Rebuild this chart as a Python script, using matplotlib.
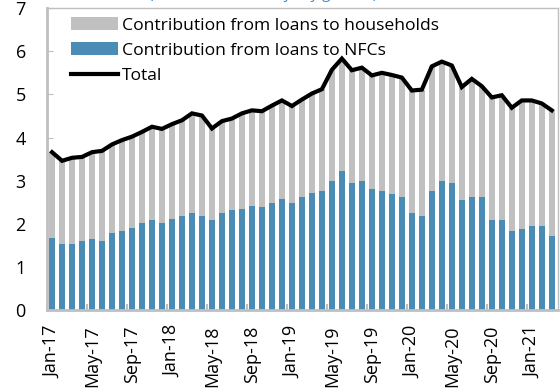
import numpy as np
import pandas as pd
import matplotlib
matplotlib.use("Agg")
import matplotlib.pyplot as plt
from matplotlib.patches import Patch
from matplotlib.lines import Line2D

plt.rcParams["font.family"] = ["Open Sans", "DejaVu Sans"]

# monthly, Jan-17 .. Mar-21
months = pd.date_range("2017-01-01", "2021-03-01", freq="MS")

nfc = [
    1.68, 1.54, 1.54, 1.61, 1.64, 1.61, 1.78, 1.84, 1.91, 2.01, 2.09, 2.01,
    2.12, 2.17, 2.24, 2.17, 2.09, 2.26, 2.32, 2.35, 2.42, 2.38, 2.47, 2.58,
    2.47, 2.61, 2.72, 2.75, 3.00, 3.23, 2.95, 3.00, 2.81, 2.77, 2.69, 2.61,
    2.24, 2.17, 2.77, 2.99, 2.95, 2.54, 2.61, 2.61, 2.09, 2.09, 1.84, 1.89,
    1.95, 1.95, 1.72,
]
total = [
    3.66, 3.46, 3.53, 3.55, 3.66, 3.69, 3.84, 3.94, 4.02, 4.13, 4.25, 4.20,
    4.31, 4.40, 4.56, 4.51, 4.21, 4.38, 4.44, 4.56, 4.63, 4.61, 4.74, 4.86,
    4.73, 4.88, 5.02, 5.12, 5.57, 5.83, 5.56, 5.62, 5.44, 5.50, 5.45, 5.39,
    5.09, 5.11, 5.65, 5.76, 5.67, 5.17, 5.36, 5.19, 4.93, 4.98, 4.69, 4.86,
    4.86, 4.79, 4.63,
]
households = [t - n for t, n in zip(total, nfc)]
labels = [m.strftime("%b-%y") for m in months]

GREY = "#c0c0c0"
BLUE = "#4a8cb6"
FRAME = "#bfbfbf"

fig = plt.figure(figsize=(5.6, 3.88), dpi=100)
ax = fig.add_axes([0.084, 0.201, 0.912, 0.778])

x = np.arange(len(months))
ax.bar(x, nfc, width=0.6, color=BLUE, zorder=2)
ax.bar(x, households, width=0.6, bottom=nfc, color=GREY, zorder=2)
ax.plot(x, total, color="black", lw=3, solid_joinstyle="miter", zorder=3)

ax.set_xlim(-0.5, len(months) - 0.4)
ax.set_ylim(0, 7)
ax.set_yticks(range(0, 8))
ax.tick_params(axis="y", direction="in", length=4, color=FRAME,
               labelsize=13, pad=19)
for lab in ax.get_yticklabels():
    lab.set_horizontalalignment("center")

ax.set_xticks(x[::4])
ax.set_xticklabels(labels[::4], rotation=90, fontsize=13)
ax.tick_params(axis="x", length=0, pad=11)
ax.set_xticks(np.arange(3.5, len(months), 4), minor=True)
ax.tick_params(axis="x", which="minor", direction="in", length=4,
               width=1.5, color=FRAME)

for side in ["left", "bottom"]:
    ax.spines[side].set_color(FRAME)
    ax.spines[side].set_linewidth(2)
for side in ["top", "right"]:
    ax.spines[side].set_color(FRAME)
    ax.spines[side].set_linewidth(1)

handles = [
    Patch(facecolor=GREY, edgecolor="none"),
    Patch(facecolor=BLUE, edgecolor="none"),
    Line2D([0], [0], color="black", lw=3),
]
ax.legend(handles, ["Contribution from loans to households",
                    "Contribution from loans to NFCs", "Total"],
          loc="upper left", bbox_to_anchor=(0.03, 1.0), frameon=False,
          fontsize=12.6, handlelength=2.7, handleheight=0.8,
          handletextpad=0.2, labelspacing=0.48, borderaxespad=0.1)

# subtitle sitting just above the canvas edge
fig.text(0.47, 1.004, "(contribution in %, y-o-y growth)", color="#3a8ad0",
         fontsize=11, ha="center", va="baseline")

fig.savefig("out.png", dpi=100)
